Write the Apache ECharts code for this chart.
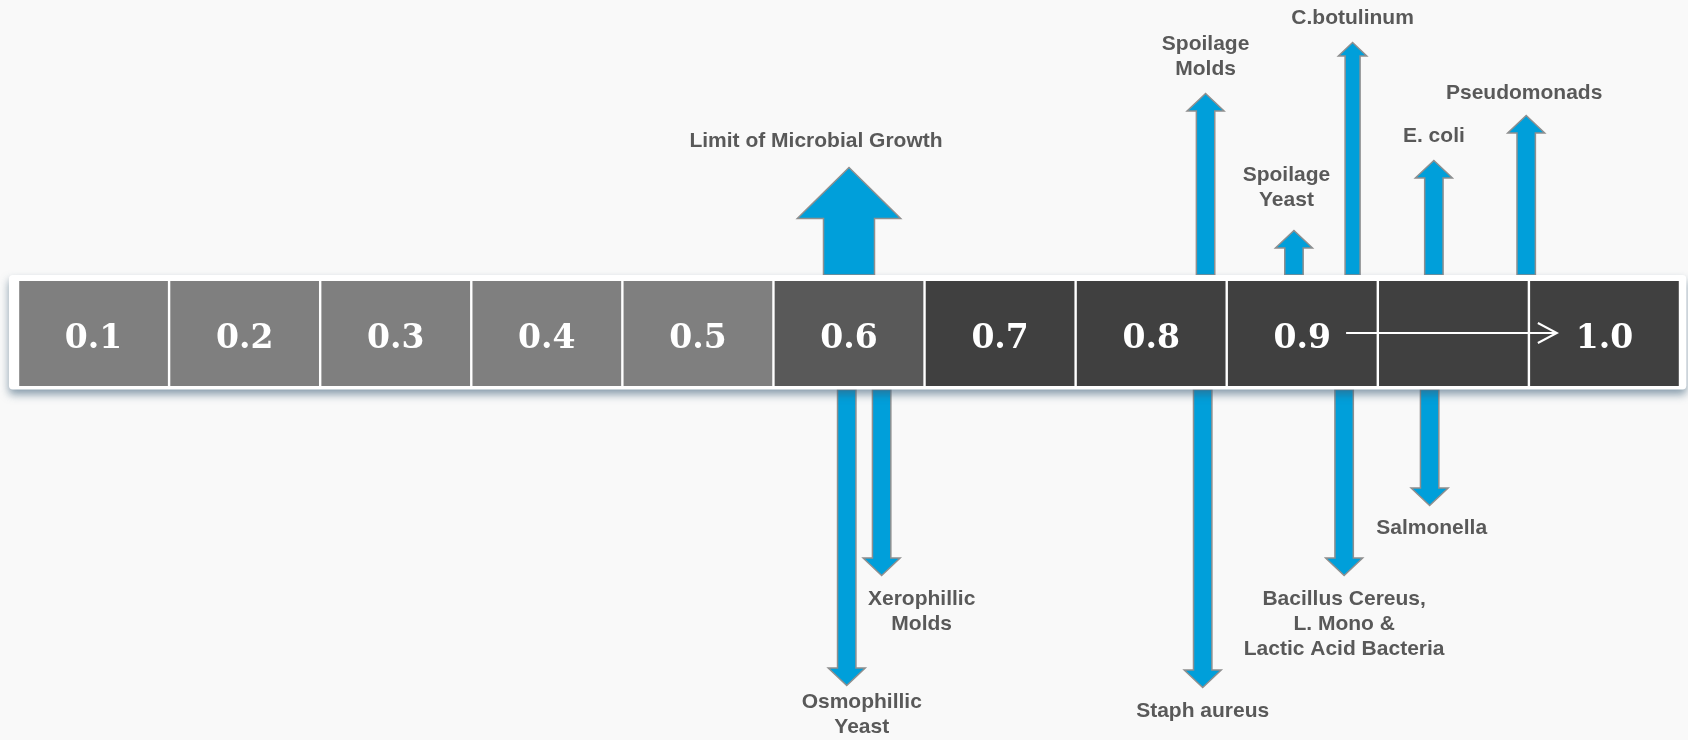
<!DOCTYPE html>
<html>
<head>
<meta charset="utf-8">
<script src="https://cdn.jsdelivr.net/npm/echarts@6/dist/echarts.min.js"></script>
<style>
html,body{margin:0;padding:0;background:#f9f9f9;}
#c{width:1688px;height:740px;}
</style>
</head>
<body>
<div id="c"></div>
<script>
// ---------- DATA ----------
// water-activity scale cells (the unlabeled cell sits between 0.9 and 1.0)
const cellLabels = ['0.1', '0.2', '0.3', '0.4', '0.5', '0.6', '0.7', '0.8', '0.9', '', '1.0'];
const cellShade  = ['light', 'light', 'light', 'light', 'light', 'mid', 'dark', 'dark', 'dark', 'dark', 'dark'];

// organisms: position along the scale (in cell units) and arrow reach (+ up / - down)
const organisms  = ['Limit of Microbial Growth', 'Spoilage\nMolds', 'Spoilage\nYeast', 'C.botulinum',
                    'E. coli', 'Pseudomonads', 'Osmophillic\nYeast', 'Xerophillic\nMolds',
                    'Staph aureus', 'Bacillus Cereus,\nL. Mono &\nLactic Acid Bacteria', 'Salmonella'];
const arrowPos   = [5.50, 7.86, 8.445, 8.833, 9.371, 9.982, 5.485, 5.716, 7.841, 8.777, 9.343];
const arrowReach = [166, 240, 103, 291, 173, 218, -352, -242, -354, -242, -172];

// the 0.9 -> 1.0 range arrow (cell units)
const rangeArrow = [8.79, 10.185];

// ---------- LAYOUT / STYLE ----------
const BAND_HALF = 52.5, FRAME_TOP = 58.5, FRAME_BOTTOM = -56;
const shadeColor = { light: '#7f7f7f', mid: '#595959', dark: '#404040' };
const arrowSize = {
  'Limit of Microbial Growth': { sh: 25.5, hh: 51.7, hl: 51 },
  'C.botulinum': { sh: 7.5, hh: 14.2, hl: 13.5 }
};
const defaultSize = { sh: 9.2, hh: 18.5, hl: 17.5 };
const labelShift = {
  'Limit of Microbial Growth': { dx: -33, dy: 2 },
  'Spoilage\nYeast': { dx: -7.5, dy: 6.5 },
  'Pseudomonads': { dx: -2, dy: -1.5 },
  'Osmophillic\nYeast': { dx: 15, dy: -7 },
  'Xerophillic\nMolds': { dx: 40, dy: -0.5 },
  'Salmonella': { dx: 2, dy: -1.5 }
};
const LINE_H = 25;

const chart = echarts.init(document.getElementById('c'), null, { renderer: 'canvas' });

function renderArrow(params, api) {
  const i = params.dataIndex;
  const name = organisms[i];
  const reach = api.value(1);
  const up = reach > 0;
  const x = api.coord([api.value(0), 0])[0];
  const base = api.coord([0, up ? FRAME_TOP : FRAME_BOTTOM])[1];
  const tip = api.coord([0, reach])[1];
  const s = arrowSize[name] || defaultSize;
  const hb = up ? tip + s.hl : tip - s.hl;
  const pts = [[x - s.sh, base], [x - s.sh, hb], [x - s.hh, hb], [x, tip],
               [x + s.hh, hb], [x + s.sh, hb], [x + s.sh, base]];
  const sh = labelShift[name] || { dx: 0, dy: 0 };
  const gap = 11.5 + sh.dy;
  return {
    type: 'group',
    children: [
      { type: 'polygon', shape: { points: pts },
        style: { fill: '#009fda', stroke: '#8f8f8f', lineWidth: 1.5 } },
      { type: 'text', x: x + sh.dx, y: up ? tip - gap : tip + gap,
        style: { text: name, fill: '#595959', font: 'bold 21px "Liberation Sans", Arial, sans-serif',
                 align: 'center', verticalAlign: up ? 'bottom' : 'top', lineHeight: LINE_H } }
    ]
  };
}

function renderFrame(params, api) {
  const a = api.coord([-0.06, FRAME_TOP]);
  const b = api.coord([11.042, FRAME_BOTTOM]);
  return {
    type: 'rect',
    shape: { x: a[0], y: a[1], width: b[0] - a[0], height: b[1] - a[1], r: 4 },
    style: { fill: '#ffffff', shadowBlur: 9, shadowOffsetY: 5, shadowOffsetX: 0,
             shadowColor: 'rgba(60,95,120,0.6)' }
  };
}

function renderCell(params, api) {
  const k = params.dataIndex;
  const a = api.coord([k, BAND_HALF]);
  const b = api.coord([k + 1, -BAND_HALF]);
  const c = api.coord([k + 0.5, -6]);
  return {
    type: 'group',
    children: [
      { type: 'rect', shape: { x: a[0] + 1.2, y: a[1], width: b[0] - a[0] - 2.4, height: b[1] - a[1] },
        style: { fill: shadeColor[cellShade[k]] } },
      { type: 'text', x: c[0], y: c[1],
        style: { text: cellLabels[k], fill: '#ffffff', font: 'bold 33px "DejaVu Serif", Georgia, serif',
                 align: 'center', verticalAlign: 'middle' } }
    ]
  };
}

function renderRange(params, api) {
  const p0 = api.coord([api.value(0), 0.5]);
  const p1 = api.coord([api.value(1), 0.5]);
  return {
    type: 'group',
    children: [
      { type: 'line', shape: { x1: p0[0], y1: p0[1], x2: p1[0] - 1, y2: p1[1] },
        style: { stroke: '#ffffff', lineWidth: 2 } },
      { type: 'polyline', shape: { points: [[p1[0] - 19, p1[1] - 10], [p1[0], p1[1]], [p1[0] - 19, p1[1] + 10]] },
        style: { stroke: '#ffffff', lineWidth: 2, fill: null } }
    ]
  };
}

chart.setOption({
  backgroundColor: '#f9f9f9',
  animation: false,
  grid: { left: 18, right: 8, top: 0, bottom: 0 },
  xAxis: { type: 'value', min: 0, max: 11, show: false },
  yAxis: { type: 'value', min: -406.5, max: 333.5, show: false },
  series: [
    { type: 'custom', name: 'arrows', z: 1, clip: false, renderItem: renderArrow,
      data: arrowPos.map((p, i) => [p, arrowReach[i]]) },
    { type: 'custom', name: 'frame', z: 2, clip: false, renderItem: renderFrame,
      data: [[0, 0]] },
    { type: 'custom', name: 'cells', z: 3, clip: false, renderItem: renderCell,
      data: cellLabels.map((l, k) => [k + 0.5, 0]) },
    { type: 'custom', name: 'range', z: 4, clip: false, renderItem: renderRange,
      data: [rangeArrow] }
  ]
});
</script>
</body>
</html>
